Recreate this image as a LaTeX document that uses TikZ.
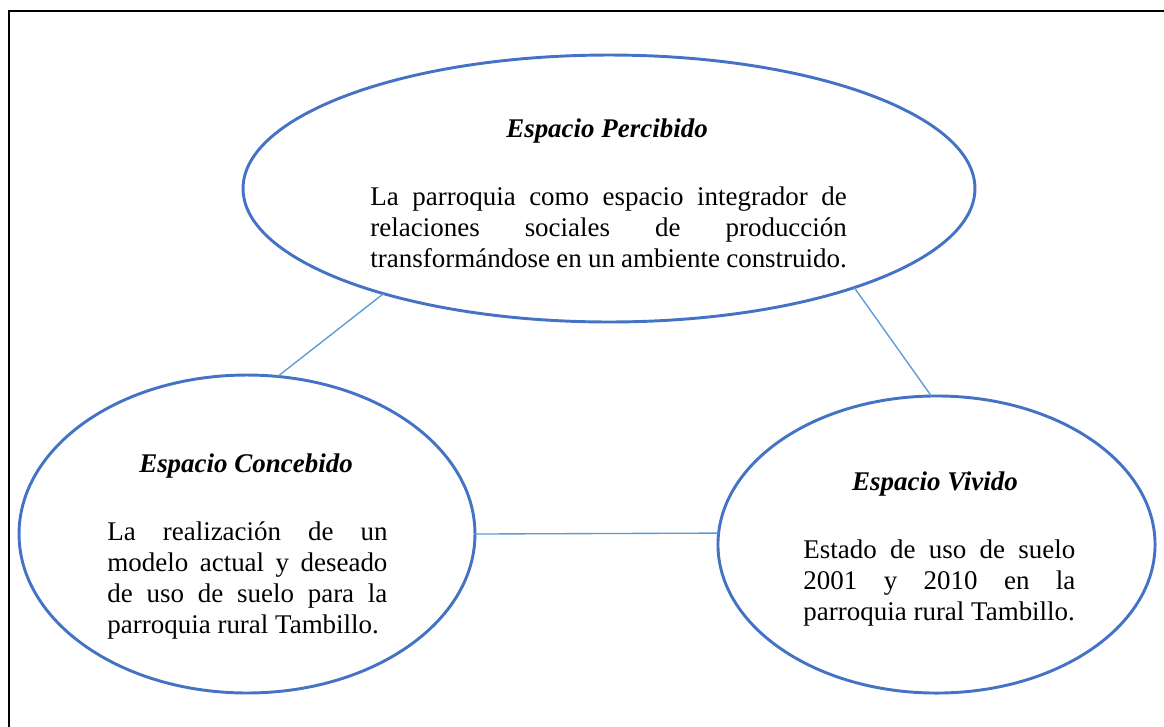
\documentclass[tikz,border=0pt]{standalone}
\usepackage{fontspec}
\setmainfont{Liberation Serif}
\usetikzlibrary{shapes.geometric}
\definecolor{azul}{HTML}{4472C4}
\definecolor{celeste}{HTML}{5B9BD5}
\hbadness=10000

\begin{document}
\begin{tikzpicture}[
    x=0.445pt, y=-0.445pt,
    espacio/.style={ellipse, draw=azul, line width=1.3pt, inner sep=0pt, outer sep=0pt},
    titulo/.style={anchor=base, font=\fontsize{12}{13.8}\selectfont\bfseries\itshape},
    texto/.style={anchor=base west, inner sep=0pt, align=justify, font=\fontsize{12}{13.8}\selectfont},
    enlace/.style={draw=celeste, line width=0.6pt}
]
    \useasboundingbox (0,0) rectangle (1164,726);
    % marco (se sale por la derecha y por abajo)
    \draw[line width=1.3pt] (9,740) -- (9,11) -- (1180,11);

    \node[espacio, minimum width=325.7pt, minimum height=118.8pt] (percibido) at (609,188.5) {};
    \node[espacio, minimum width=202.9pt, minimum height=141.5pt] (concebido) at (247,534) {};
    \node[espacio, minimum width=194.5pt, minimum height=132.2pt] (vivido) at (936.5,544.5) {};

    \node[titulo] (tPercibido) at (607,137) {Espacio Percibido};
    \node[texto, text width=212pt] (cPercibido) at (370,205)
        {La parroquia como espacio integrador de\linebreak relaciones sociales de producción\linebreak transformándose en un ambiente construido.};

    \node[titulo] (tConcebido) at (246,472) {Espacio Concebido};
    \node[texto, text width=124.6pt] (cConcebido) at (107,540)
        {La realización de un\linebreak modelo actual y deseado\linebreak de uso de suelo para la\linebreak parroquia rural Tambillo.};

    \node[titulo] (tVivido) at (935,490) {Espacio Vivido};
    \node[texto, text width=121pt] (cVivido) at (803,558)
        {Estado de uso de suelo\linebreak 2001 y 2010 en la\linebreak parroquia rural Tambillo.};

    % relaciones entre los tres espacios
    \draw[enlace] (percibido.205.5) -- (concebido.79.3);
    \draw[enlace] (percibido.338.2) -- (vivido.92.1);
    \draw[enlace] (concebido.east) -- (vivido.177);
\end{tikzpicture}
\end{document}
